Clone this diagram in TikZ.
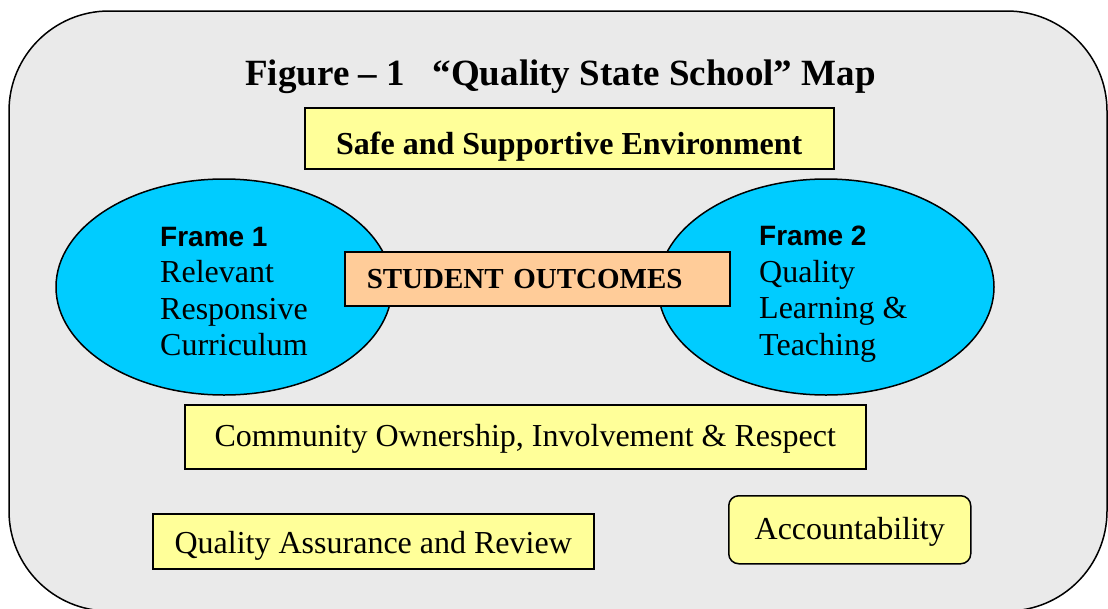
\documentclass[tikz,border=0pt]{standalone}
\usepackage{fontspec}
\setmainfont{Liberation Serif}
\setsansfont{Liberation Sans}
\usetikzlibrary{shapes.geometric, positioning}
\definecolor{mapgrey}{RGB}{234,234,234}
\definecolor{framecyan}{RGB}{0,204,255}
\definecolor{boxyellow}{RGB}{255,255,153}
\definecolor{outcomepeach}{RGB}{255,204,153}

\begin{document}
\begin{tikzpicture}[
    x=1pt, y=-1pt,
    box/.style={rectangle, draw, line width=1.5pt, fill=boxyellow, inner sep=0pt, anchor=north west, font=\fontsize{32}{36}\selectfont},
    frameoval/.style={ellipse, draw, line width=1.5pt, fill=framecyan, minimum width=336pt, minimum height=216pt, inner sep=0pt},
    frametext/.style={anchor=north west, inner sep=0pt, align=left, font=\fontsize{32}{36.5}\selectfont},
    framehead/.style={font=\sffamily\bfseries\fontsize{28}{36.5}\selectfont}
]
\useasboundingbox (0,0) rectangle (1108,608);
\draw[fill=mapgrey, line width=1.5pt, rounded corners=100pt] (9,11) rectangle (1107,611);

\node[anchor=base, inner sep=0pt, font=\bfseries\fontsize{37}{40}\selectfont] (title) at (560.5,85) {Figure -- 1\ \ \ ``Quality State School'' Map};

\node[box, minimum width=529pt, text height=47pt, text depth=14pt] (safe) at (304,107) {\textbf{Safe and Supportive Environment}};

\node[frameoval] (frame1) at (224,287) {};
\node[frameoval] (frame2) at (826,287) {};
\node[frametext] (frame1text) at (160,227) {{\sffamily\bfseries\fontsize{28}{36.5}\selectfont Frame 1}\\Relevant\\Responsive\\Curriculum};
\node[frametext] (frame2text) at (759,226) {{\sffamily\bfseries\fontsize{28}{36.5}\selectfont Frame 2}\\Quality\\Learning \&\\Teaching};

\node[box, fill=outcomepeach, text width=341pt, inner xsep=22pt, align=left, text height=37pt, text depth=17pt, font=\bfseries\fontsize{29}{32}\selectfont] (outcomes) at (344,251) {STUDENT OUTCOMES};

\node[box, minimum width=681pt, text height=42pt, text depth=22pt] (community) at (184,404) {Community Ownership, Involvement \& Respect};
\node[box, minimum width=441pt, text height=40pt, text depth=15pt] (review) at (152,513) {Quality Assurance and Review};
\node[box, rounded corners=10pt, minimum width=242pt, text height=44pt, text depth=24pt] (account) at (728,495) {Accountability};
\end{tikzpicture}
\end{document}
